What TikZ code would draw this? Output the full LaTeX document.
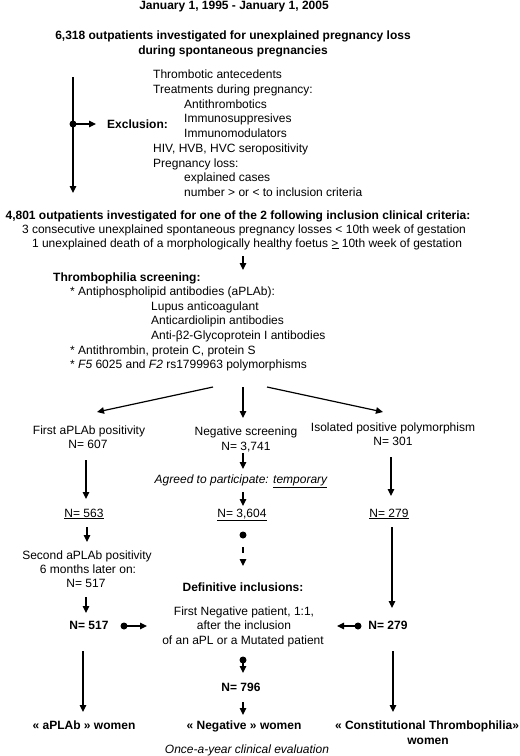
\documentclass[tikz,border=0pt]{standalone}
\usepackage{fontspec}
\setmainfont{Liberation Sans}
\usetikzlibrary{arrows.meta}
\begin{document}
\begin{tikzpicture}[x=1pt,y=-1pt,
  txt/.style={inner sep=0pt, anchor=base, font=\fontsize{12}{14}\selectfont},
  ltxt/.style={txt, anchor=base west},
  btxt/.style={txt, font=\fontsize{12}{14}\selectfont\bfseries},
  arr/.style={-{Triangle[length=7pt,width=6.5pt]}, line width=1.2pt},
  dotc/.style={circle, fill, inner sep=0pt, minimum size=7pt}]
\useasboundingbox (0,0) rectangle (520,756);

% header
\node[btxt] (title) at (234,9.5) {January 1, 1995 - January 1, 2005};
\node[btxt] (h1) at (233,39) {6,318 outpatients investigated for unexplained pregnancy loss};
\node[btxt] (h2) at (233,54.5) {during spontaneous pregnancies};

% exclusion list
\node[ltxt] (e1) at (153,78) {Thrombotic antecedents};
\node[ltxt] (e2) at (153,93) {Treatments during pregnancy:};
\node[ltxt] (e3) at (184,108) {Antithrombotics};
\node[ltxt] (e4) at (184,122) {Immunosuppresives};
\node[ltxt] (e5) at (184,137) {Immunomodulators};
\node[ltxt] (e6) at (153,152) {HIV, HVB, HVC seropositivity};
\node[ltxt] (e7) at (153,167) {Pregnancy loss:};
\node[ltxt] (e8) at (184,181) {explained cases};
\node[ltxt] (e9) at (184,196) {number > or < to inclusion criteria};
\node[btxt, anchor=base west] (excl) at (107,128) {Exclusion:};

\coordinate (v1) at (73,77);
\coordinate (v2) at (73,193);
\node[dotc] (d1) at (73,124) {};
\coordinate (d1e) at (96,124);
\draw[arr] (v1) -- (v2);
\draw[arr] (d1.center) -- (d1e);

% inclusion
\node[btxt] (i1) at (238,219) {4,801 outpatients investigated for one of the 2 following inclusion clinical criteria:};
\node[txt] (i2) at (244,233) {3 consecutive unexplained spontaneous pregnancy losses < 10th week of gestation};
\node[txt] (i3) at (247,247) {1 unexplained death of a morphologically healthy foetus \underline{>} 10th week of gestation};
\coordinate (a1s) at (243,256);
\coordinate (a1e) at (243,270);
\draw[arr] (a1s) -- (a1e);

% screening
\node[btxt, anchor=base west] (s0) at (53,281) {Thrombophilia screening:};
\node[ltxt] (s1) at (70,295) {* Antiphospholipid antibodies (aPLAb):};
\node[ltxt] (s2) at (151,310) {Lupus anticoagulant};
\node[ltxt] (s3) at (151,324) {Anticardiolipin antibodies};
\node[ltxt] (s4) at (151,339) {Anti-β2-Glycoprotein I antibodies};
\node[ltxt] (s5) at (70,354) {* Antithrombin, protein C, protein S};
\node[ltxt] (s6) at (70,368) {* \textit{F5} 6025 and \textit{F2} rs1799963 polymorphisms};

\coordinate (bl) at (213,387);
\coordinate (bm) at (243,387);
\coordinate (br) at (267,387);
\coordinate (tl) at (97,412);
\coordinate (tm) at (243,418);
\coordinate (tr) at (383,412);
\draw[arr] (bl) -- (tl);
\draw[arr] (bm) -- (tm);
\draw[arr] (br) -- (tr);

% three branches
\node[txt] (l1) at (89,434) {First aPLAb positivity};
\node[txt] (l2) at (88,448) {N= 607};
\node[txt] (m1) at (246,435) {Negative screening};
\node[txt] (m2) at (246,450) {N= 3,741};
\node[txt] (r1) at (393,431) {Isolated positive polymorphism};
\node[txt] (r2) at (393,445) {N= 301};

\coordinate (la1) at (86,460);
\coordinate (la2) at (86,499);
\draw[arr] (la1) -- (la2);
\coordinate (ma1) at (243,453);
\coordinate (ma2) at (243,469);
\draw[arr] (ma1) -- (ma2);
\node[txt, font=\fontsize{12}{14}\selectfont\itshape] (agree) at (241,483) {Agreed to participate: \underline{temporary}};
\coordinate (ma3) at (243,492);
\coordinate (ma4) at (243,506);
\draw[arr] (ma3) -- (ma4);
\coordinate (ra1) at (391,457);
\coordinate (ra2) at (391,496);
\draw[arr] (ra1) -- (ra2);

\node[txt] (l3) at (84,517) {\underline{N= 563}};
\node[txt] (m3) at (242,517) {\underline{N= 3,604}};
\node[txt] (r3) at (389,517) {\underline{N= 279}};

\coordinate (la3) at (87,527);
\coordinate (la4) at (87,542);
\draw[arr] (la3) -- (la4);
\node[dotc] (d2) at (243,535) {};
\coordinate (ma5) at (243,566);
\draw[arr, dash pattern=on 3pt off 9pt on 6pt off 30pt] (d2.center) -- (ma5);
\coordinate (ra3) at (392,527);
\coordinate (ra4) at (392,608);
\draw[arr] (ra3) -- (ra4);

\node[txt] (l4) at (87,559) {Second aPLAb positivity};
\node[txt] (l5) at (88,573) {6 months later on:};
\node[txt] (l6) at (86,587) {N= 517};
\coordinate (la5) at (86,597);
\coordinate (la6) at (86,613);
\draw[arr] (la5) -- (la6);
\node[btxt] (l7) at (89,629) {N= 517};

\node[btxt] (def) at (243,591) {Definitive inclusions:};
\node[txt] (c1) at (244,615) {First Negative patient, 1:1,};
\node[txt] (c2) at (244,629) {after the inclusion};
\node[txt] (c3) at (243,644) {of an aPL or a Mutated patient};

\node[dotc] (d3) at (124,626) {};
\coordinate (d3e) at (147,626);
\draw[arr] (d3.center) -- (d3e);
\node[dotc] (d4) at (358,626) {};
\coordinate (d4e) at (337,626);
\draw[arr] (d4.center) -- (d4e);
\node[btxt] (r7) at (388,629) {N= 279};

\node[dotc] (d5) at (243,660) {};
\coordinate (ma6) at (243,673);
\draw[arr] (d5.center) -- (ma6);
\node[btxt] (m7) at (241,691) {N= 796};
\coordinate (ma7) at (243,702);
\coordinate (ma8) at (243,715);
\draw[arr] (ma7) -- (ma8);

\coordinate (la7) at (83,651);
\coordinate (la8) at (83,712);
\draw[arr] (la7) -- (la8);
\coordinate (ra5) at (393,651);
\coordinate (ra6) at (393,712);
\draw[arr] (ra5) -- (ra6);

\node[btxt] (f1) at (84,729) {« aPLAb » women};
\node[btxt] (f2) at (244,729) {« Negative » women};
\node[btxt] (f3) at (427,729) {« Constitutional Thrombophilia»};
\node[btxt] (f4) at (428,744) {women};
\node[txt, font=\fontsize{12}{14}\selectfont\itshape] (once) at (247,753) {Once-a-year clinical evaluation};
\end{tikzpicture}
\end{document}
